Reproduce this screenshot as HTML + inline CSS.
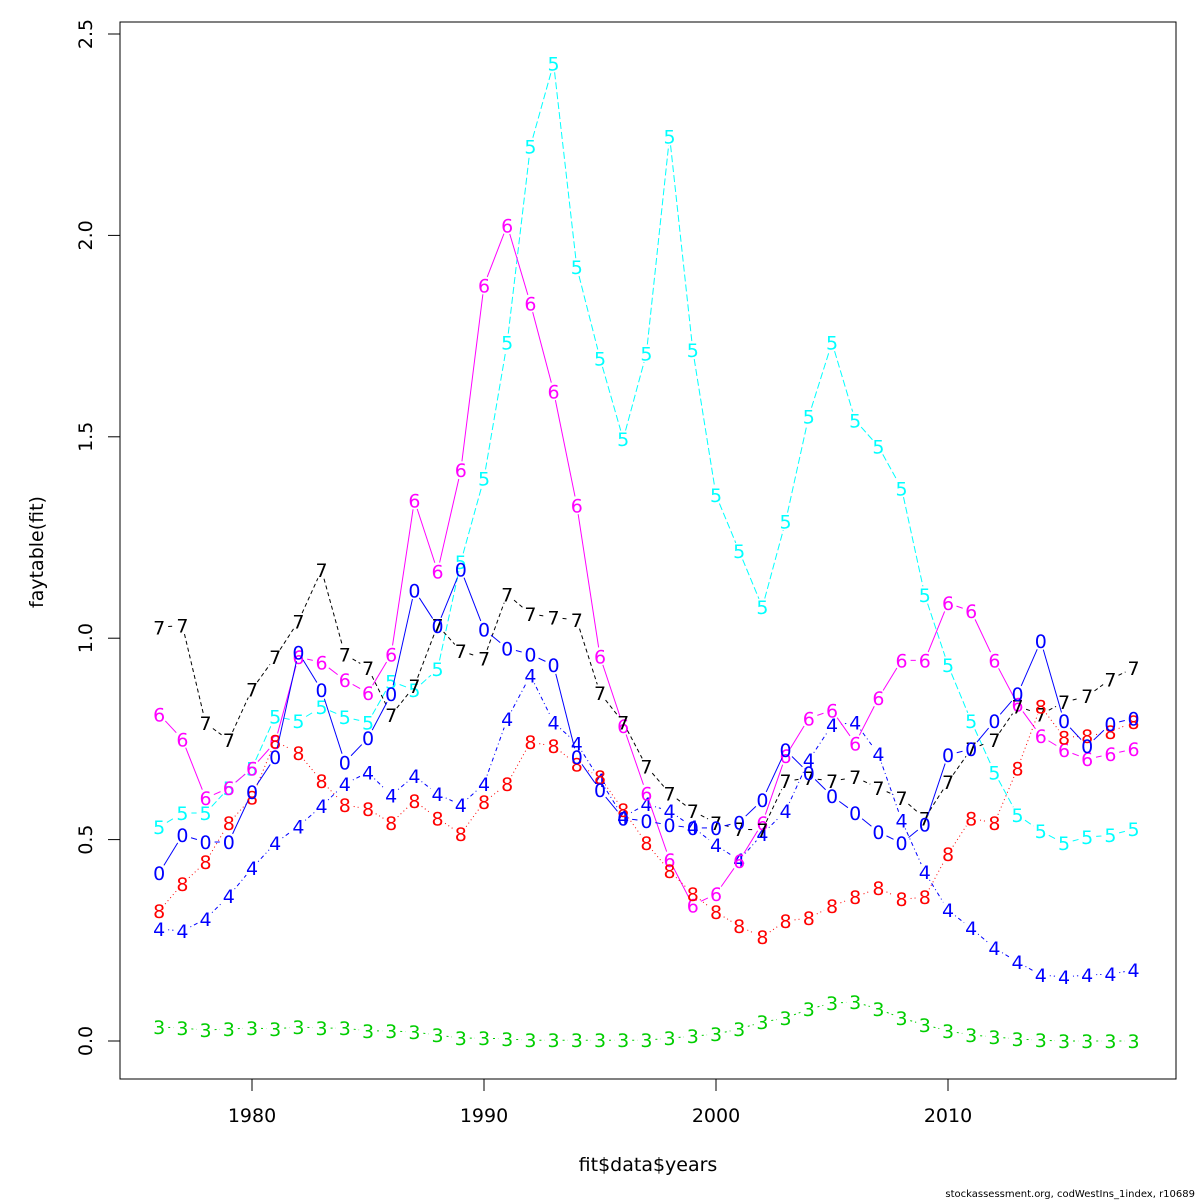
<!DOCTYPE html>
<html><head><meta charset="utf-8"><style>
html,body{margin:0;padding:0;background:#fff;}
svg{display:block;font-family:"DejaVu Sans","Liberation Sans",sans-serif;}
</style></head><body>
<svg id="chart" width="1200" height="1200" viewBox="0 0 1200 1200">
<rect x="0" y="0" width="1200" height="1200" fill="#fff"/>
<rect x="120" y="22" width="1056" height="1057" fill="none" stroke="#000" stroke-width="1"/>
<g id="axes"></g>
<g id="series"></g>
<text x="648" y="1171" font-size="19" text-anchor="middle">fit$data$years</text>
<text transform="translate(43,552) rotate(-90)" font-size="19" text-anchor="middle">faytable(fit)</text>
<text x="1195" y="1197" font-size="10" text-anchor="end">stockassessment.org, codWestIns_1index, r10689</text>
</svg>
<script>
const years=[];for(let y=1976;y<=2018;y++)years.push(y);
const xTicks=[1980,1990,2000,2010];
const yTicks=[0,0.5,1,1.5,2,2.5];
const yTickLabels=["0.0","0.5","1.0","1.5","2.0","2.5"];
const s3=[0.035,0.032,0.027,0.030,0.032,0.030,0.035,0.032,0.032,0.025,0.025,0.022,0.015,0.007,0.007,0.005,0.002,0.002,0.002,0.002,0.002,0.002,0.007,0.012,0.017,0.030,0.047,0.057,0.079,0.094,0.097,0.079,0.057,0.040,0.025,0.015,0.010,0.005,0.002,0,0,0,0];
const s4=[.278,.273,.303,.360,.429,.491,.533,.583,.638,.667,.610,.658,.613,.586,.638,.799,.908,.791,.739,.648,.556,.588,.571,.531,.486,.449,.514,.571,.697,.784,.791,.712,.548,.419,.325,.280,.231,.196,.164,.159,.164,.166,.176];
const s5=[.531,.566,.566,.628,.677,.806,.794,.829,.804,.791,.893,.871,.923,1.189,1.397,1.734,2.221,2.427,1.921,1.695,1.494,1.707,2.246,1.715,1.355,1.216,1.077,1.290,1.551,1.734,1.541,1.476,1.372,1.107,.933,.794,.667,.561,.521,.491,.506,.511,.526];
const s6=[.811,.749,.603,.628,.677,.742,.953,.940,.896,.864,.960,1.342,1.166,1.417,1.876,2.025,1.831,1.613,1.330,.955,.782,.615,.449,.337,.365,.447,.541,.707,.801,.821,.739,.851,.945,.945,1.087,1.067,.945,.836,.757,.722,.700,.712,.725];
const s7=[1.027,1.032,.789,.747,.873,.953,1.042,1.169,.960,.926,.809,.881,1.032,.968,.950,1.109,1.060,1.052,1.045,.864,.791,.682,.615,.571,.541,.526,.524,.645,.653,.645,.655,.628,.603,.553,.643,.725,.747,.831,.811,.841,.856,.898,.926];
const s8=[.323,.390,.444,.541,.605,.744,.715,.645,.586,.576,.541,.596,.553,.514,.593,.638,.742,.732,.687,.655,.573,.491,.422,.365,.320,.285,.258,.298,.305,.335,.357,.380,.352,.357,.464,.553,.541,.677,.831,.754,.757,.767,.792];
const s0=[.417,.511,.494,.494,.618,.705,.965,.871,.692,.752,.861,1.119,1.030,1.171,1.022,.975,.960,.933,.705,.623,.553,.546,.536,.529,.529,.543,.598,.722,.665,.608,.566,.519,.491,.538,.710,.725,.794,.861,.993,.794,.732,.787,.801];
const seriesList=[
 {lab:"3",vals:s3,col:"#00cd00",dash:"2,3"},
 {lab:"4",vals:s4,col:"#0000ff",dash:"1,3,4,3"},
 {lab:"5",vals:s5,col:"#00ffff",dash:"7,3"},
 {lab:"6",vals:s6,col:"#ff00ff",dash:""},
 {lab:"7",vals:s7,col:"#000000",dash:"4,3"},
 {lab:"8",vals:s8,col:"#ff0000",dash:"1,3"},
 {lab:"0",vals:s0,col:"#0000ff",dash:""}
];
const NS="http://www.w3.org/2000/svg";
const X=y=>252+(y-1980)*23.2;
const Y=v=>1041-v*402.8;
const axes=document.getElementById('axes');
function mk(tag,attrs,parent){const e=document.createElementNS(NS,tag);for(const k in attrs)e.setAttribute(k,attrs[k]);parent.appendChild(e);return e;}
const xl=mk('line',{x1:X(1980),x2:X(2010),y1:1079,y2:1079,stroke:'#000'},axes);


xTicks.forEach(t=>{
 const tk=mk('line',{x1:X(t),x2:X(t),y1:1079,y2:1091,stroke:'#000'},axes);
 
 
 const tx=mk('text',{x:X(t),y:1122,'font-size':19,'text-anchor':'middle'},axes);tx.textContent=t;
 
 
});
const yl=mk('line',{x1:120,x2:120,y1:Y(0),y2:Y(2.5),stroke:'#000'},axes);


yTicks.forEach((t,i)=>{
 const tk=mk('line',{x1:108,x2:120,y1:Y(t),y2:Y(t),stroke:'#000'},axes);
 
 
 const tx=mk('text',{transform:`translate(92,${Y(t)}) rotate(-90)`,'font-size':19,'text-anchor':'middle'},axes);tx.textContent=yTickLabels[i];
 
 
});
const sg=document.getElementById('series');
seriesList.forEach(s=>{
 const g=mk('g',{},sg);
 
 
 for(let i=0;i<years.length-1;i++){
  const x1=X(years[i]),y1=Y(s.vals[i]),x2=X(years[i+1]),y2=Y(s.vals[i+1]);
  const dx=x2-x1,dy=y2-y1,L=Math.hypot(dx,dy),g0=9;
  if(L<=2*g0)continue;
  const ux=dx/L,uy=dy/L;
  const ln=mk('line',{x1:x1+ux*g0,y1:y1+uy*g0,x2:x2-ux*g0,y2:y2-uy*g0,stroke:s.col,'stroke-width':1,'stroke-dasharray':s.dash},g);
  
  
 }
 years.forEach((yr,i)=>{
  const t=mk('text',{x:X(yr),y:Y(s.vals[i])+7,'font-size':19,'text-anchor':'middle',fill:s.col},g);t.textContent=s.lab;
  
  
 });
});
</script>
</body></html>
